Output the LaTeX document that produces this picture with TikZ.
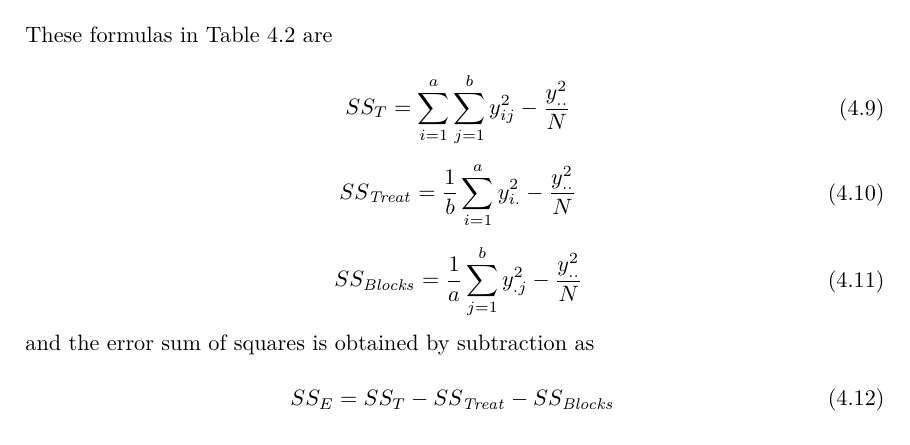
\documentclass[tikz,border=0pt]{standalone}
\usepackage{amsmath}
\begin{document}
\begin{tikzpicture}[x=0.72pt,y=-0.72pt,
  txt/.style={inner sep=0pt,anchor=base west,scale=1.6},
  eq/.style={inner sep=0pt,anchor=west,scale=1.6},
  num/.style={inner sep=0pt,anchor=east,scale=1.6}]
\useasboundingbox (0,0) rectangle (910,445);
\node[txt] (t1) at (25,43) {These formulas in Table 4.2 are};
\node[eq] (e1) at (345,110) {$\displaystyle SS_T=\sum_{i=1}^{a}\sum_{j=1}^{b}y_{ij}^2-\frac{y_{..}^2}{N}$};
\node[num] (n1) at (885,110) {(4.9)};
\node[eq] (e2) at (339,195) {$\displaystyle SS_{\mathit{Treat}}=\frac{1}{b}\sum_{i=1}^{a}y_{i.}^2-\frac{y_{..}^2}{N}$};
\node[num] (n2) at (885,195) {(4.10)};
\node[eq] (e3) at (334,282) {$\displaystyle SS_{\mathit{Blocks}}=\frac{1}{a}\sum_{j=1}^{b}y_{.j}^2-\frac{y_{..}^2}{N}$};
\node[num] (n3) at (885,282) {(4.11)};
\node[txt] (t2) at (25,350) {and the error sum of squares is obtained by subtraction as};
\node[eq] (e4) at (290,400) {$\displaystyle SS_E=SS_T-SS_{\mathit{Treat}}-SS_{\mathit{Blocks}}$};
\node[num] (n4) at (885,400) {(4.12)};
\end{tikzpicture}
\end{document}
